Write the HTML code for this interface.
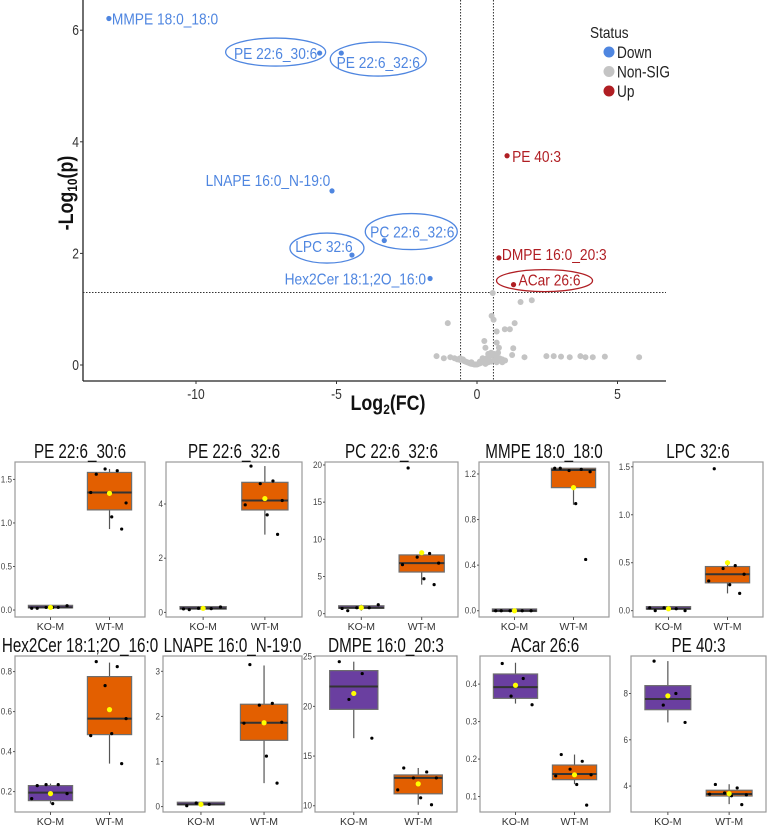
<!DOCTYPE html>
<html><head><meta charset="utf-8"><style>
html,body{margin:0;padding:0;background:#fff;}
svg{display:block;font-family:"Liberation Sans",sans-serif;}
</style></head><body>
<svg id="fig" width="767" height="831" viewBox="0 0 767 831" xmlns="http://www.w3.org/2000/svg">
<g id="volcano"></g>
<g id="boxes"></g>
</svg>
<script>
// ---------- Volcano data ----------
const sigNames = ["MMPE 18:0_18:0","PE 22:6_30:6","PE 22:6_32:6","LNAPE 16:0_N-19:0","PC 22:6_32:6","LPC 32:6","Hex2Cer 18:1;2O_16:0","PE 40:3","DMPE 16:0_20:3","ACar 26:6"];
const sigFC = [-13.1,-5.6,-4.83,-5.16,-3.3,-4.45,-1.67,1.07,0.78,1.3];
const sigP = [6.21,5.59,5.59,3.12,2.23,1.97,1.55,3.75,1.92,1.44];
const sigStatus = ["Down","Down","Down","Down","Down","Down","Down","Up","Up","Up"];
const nsFC = [0.56,1.55,1.95,0.52,0.59,-1.04,1.34,0.99,1.17,0.70,0.26,0.70,0.30,0.78,1.29,1.25,1.69,2.47,2.73,2.99,3.30,3.68,3.86,4.12,4.55,5.77,-1.44,-1.18,
-0.95,-0.8,-0.7,-0.6,-0.5,-0.45,-0.4,-0.35,-0.3,-0.25,-0.2,-0.15,-0.1,-0.05,0,0.05,0.1,0.15,0.2,0.25,0.3,0.35,0.4,0.45,0.5,0.55,0.6,0.65,0.7,0.8,0.9,1.0,0.3,0.4,0.5,0.6,0.2,0.5,0.7,0.9,-0.6,-0.2,0.1,0.75,0.4];
const nsP = [1.29,1.13,1.16,0.88,0.81,0.75,0.75,0.64,0.64,0.60,0.43,0.40,0.31,0.31,0.30,0.18,0.14,0.16,0.16,0.15,0.14,0.16,0.14,0.14,0.15,0.14,0.16,0.12,
0.14,0.12,0.1,0.09,0.1,0.07,0.06,0.05,0.04,0.03,0.02,0.02,0.01,0.01,0.01,0.02,0.03,0.04,0.06,0.08,0.1,0.12,0.14,0.16,0.17,0.18,0.2,0.17,0.14,0.12,0.1,0.08,0.02,0.05,0.06,0.08,0.12,0.22,0.05,0.05,0.12,0.05,0.06,0.22,0.2];
const xTicks = [-10,-5,0,5];
const yTicks = [0,2,4,6];
const fcCut = 0.585, pCut = 1.3;

const NS = "http://www.w3.org/2000/svg";
function mk(parent, tag, attrs, text){
  const e = document.createElementNS(NS, tag);
  for (const k in attrs) e.setAttribute(k, attrs[k]);
  if (text !== undefined) e.textContent = text;
  parent.appendChild(e); return e;
}
function condense(el, f){
  const w = el.getComputedTextLength();
  if (w > 0){ el.setAttribute('textLength', (w*f).toFixed(1)); el.setAttribute('lengthAdjust','spacingAndGlyphs'); }
}
const vx = v => 477 + 28.1*v;
const vy = v => 365 - 55.8*v;
const V = document.getElementById('volcano');
const BLUE = "#4f86e0", RED = "#b01e23", GREY = "#c4c4c4";

let ax = mk(V,'line',{x1:83,y1:0,x2:83,y2:381,stroke:'#222','stroke-width':1.3});


ax = mk(V,'line',{x1:83,y1:381,x2:666,y2:381,stroke:'#222','stroke-width':1.3});


xTicks.forEach(t=>{
  mk(V,'line',{x1:vx(t),y1:381,x2:vx(t),y2:384,stroke:'#333'});
  const tl = mk(V,'text',{x:vx(t),y:399,'font-size':15,'text-anchor':'middle',fill:'#333'},String(t));
  
  
  condense(tl,0.8);
});
yTicks.forEach(t=>{
  mk(V,'line',{x1:80,y1:vy(t),x2:83,y2:vy(t),stroke:'#333'});
  const tl = mk(V,'text',{x:79,y:vy(t)+5,'font-size':15,'text-anchor':'end',fill:'#333'},String(t));
  
  
  condense(tl,0.8);
});
[-fcCut,fcCut].forEach(f=>{
  const l = mk(V,'line',{x1:vx(f),y1:0,x2:vx(f),y2:381,stroke:'#333','stroke-width':1,'stroke-dasharray':'1.5,1.5'});
  
  
});
const hl = mk(V,'line',{x1:83,y1:vy(pCut),x2:666,y2:vy(pCut),stroke:'#333','stroke-width':1,'stroke-dasharray':'1.5,1.5'});


const xt = mk(V,'text',{x:388,y:410,'font-size':21,'font-weight':'bold','text-anchor':'middle',fill:'#111'});
xt.innerHTML = 'Log<tspan font-size="14" dy="4">2</tspan><tspan dy="-4">(FC)</tspan>';


condense(xt,0.85);
const yt = mk(V,'text',{x:0,y:0,'font-size':21,'font-weight':'bold','text-anchor':'middle',fill:'#111',transform:'translate(73,193) rotate(-90)'});
yt.innerHTML = '-Log<tspan font-size="14" dy="4">10</tspan><tspan dy="-4">(p)</tspan>';


condense(yt,0.85);
nsFC.forEach((f,i)=>{
  const c = mk(V,'circle',{cx:vx(f),cy:vy(nsP[i]),r:3,fill:GREY});
  
  
});
sigFC.forEach((f,i)=>{
  const c = mk(V,'circle',{cx:vx(f),cy:vy(sigP[i]),r:2.6,fill:sigStatus[i]==='Up'?RED:BLUE});
  
  
});
const lab = [
  {dx:3,dy:1,anchor:'start'},
  {dx:-44,dy:1,anchor:'middle',ell:[-44,-1,50,14]},
  {dx:37,dy:10,anchor:'middle',ell:[37,6,48,17]},
  {dx:-64,dy:-10,anchor:'middle'},
  {dx:28,dy:-8,anchor:'middle',ell:[27,-9,46,18]},
  {dx:-28,dy:-8,anchor:'middle',ell:[-25,-7,37,15]},
  {dx:-4,dy:1,anchor:'end'},
  {dx:5,dy:1,anchor:'start'},
  {dx:3,dy:-3,anchor:'start'},
  {dx:36,dy:-4,anchor:'middle',ell:[31,-4,48,11]}
];
sigNames.forEach((n,i)=>{
  const px = vx(sigFC[i]), py = vy(sigP[i]), L = lab[i];
  const col = sigStatus[i]==='Up'?RED:BLUE;
  const t = mk(V,'text',{x:px+L.dx,y:py+L.dy+5,'font-size':16,'text-anchor':L.anchor,fill:col},n);
  
  
  condense(t,0.86);
  if (L.ell){
    const e = mk(V,'ellipse',{cx:px+L.ell[0],cy:py+L.ell[1],rx:L.ell[2],ry:L.ell[3],fill:'none',stroke:col,'stroke-width':1.3});
    
    
  }
});
const lg = mk(V,'g',{});


const lgt = mk(lg,'text',{x:590,y:38,'font-size':16,fill:'#222'},'Status');
condense(lgt,0.85);
[['Down',BLUE],['Non-SIG',GREY],['Up',RED]].forEach((d,i)=>{
  const g = mk(lg,'g',{});
  
  
  mk(g,'circle',{cx:609,cy:52+19.5*i,r:5.5,fill:d[1]});
  const tx = mk(g,'text',{x:617,y:58+19.5*i,'font-size':17,fill:'#222'},d[0]);
  condense(tx,0.8);
});

// ---------- Box plot data ----------
const boxTitles = ["PE 22:6_30:6","PE 22:6_32:6","PC 22:6_32:6","MMPE 18:0_18:0","LPC 32:6","Hex2Cer 18:1;2O_16:0","LNAPE 16:0_N-19:0","DMPE 16:0_20:3","ACar 26:6","PE 40:3"];
const yMin = [-0.08,-0.17,-0.45,-0.055,-0.066,0.098,-0.12,9.37,0.0587,2.88];
const yMax = [1.70,5.55,20.4,1.305,1.55,0.878,3.34,25.07,0.475,9.62];
const tickVals = [[0,0.5,1,1.5],[0,2,4],[0,5,10,15,20],[0,0.4,0.8,1.2],[0,0.5,1,1.5],[0.2,0.4,0.6,0.8],[0,1,2,3],[10,15,20,25],[0.1,0.2,0.3,0.4],[4,6,8]];
const tickLabels = [["0.0","0.5","1.0","1.5"],["0","2","4"],["0","5","10","15","20"],["0.0","0.4","0.8","1.2"],["0.0","0.5","1.0","1.5"],["0.2","0.4","0.6","0.8"],["0","1","2","3"],["10","15","20","25"],["0.1","0.2","0.3","0.4"],["4","6","8"]];
// [whisker-low, q1, median, q3, whisker-high]
const koStats = [[0.02,0.02,0.03,0.04,0.05],[0.1,0.12,0.15,0.17,0.2],[0.4,0.6,0.8,0.9,1.2],[0,0,0,0.005,0.005],[0,0.005,0.02,0.03,0.04],[0.14,0.155,0.195,0.23,0.24],[0.02,0.03,0.05,0.07,0.08],[16.8,19.7,22,23.6,24.5],[0.348,0.362,0.392,0.427,0.457],[6.75,7.3,7.76,8.34,9.4]];
const wtStats = [[0.93,1.15,1.35,1.58,1.62],[2.87,3.78,4.13,4.8,5.4],[3.9,5.6,6.8,7.9,7.9],[0.93,1.08,1.235,1.25,1.25],[0.18,0.29,0.38,0.46,0.48],[0.34,0.485,0.565,0.775,0.845],[0.52,1.47,1.86,2.27,3.13],[10.1,11.2,12.8,13.1,13.8],[0.133,0.145,0.16,0.184,0.212],[3.22,3.57,3.66,3.82,4.08]];
const koMean = [0.03,0.15,0.8,0,0.02,0.19,0.05,21.3,0.397,7.9];
const wtMean = [1.34,4.2,8.2,1.08,0.5,0.61,1.86,12.2,0.158,3.67];
const koPts = [[0.02,0.03,0.03,0.05,0.02,0.03],[0.1,0.14,0.15,0.2,0.13],[0.4,0.8,0.8,1.2,0.7],[0,0,0,0,0],[0,0.02,0.03,0,0.03],[0.23,0.235,0.235,0.19,0.165,0.14],[0.02,0.05,0.08],[24.5,23.3,20.7,16.8],[0.455,0.415,0.368,0.345],[9.4,8.0,7.5,6.75]];
const wtPts = [[1.56,1.6,1.62,1.23,1.35,1.07,0.93],[5.4,4.85,4.75,4.13,3.97,3.6,2.88],[19.6,8.1,7.6,6.8,6.6,4.7,3.9],[1.25,1.24,1.23,1.22,1.25,0.94,0.45],[1.48,0.47,0.44,0.38,0.31,0.27,0.18],[0.85,0.825,0.73,0.565,0.48,0.49,0.34],[3.15,2.29,2.25,1.87,1.85,1.12,0.52],[13.8,13.4,12.8,12.8,11.6,10.8,10.1],[0.212,0.194,0.173,0.158,0.155,0.132,0.077],[4.07,3.92,3.7,3.62,3.65,3.58,3.2]];
const groups = ["KO-M","WT-M"];

const frames = [[15,462,145,617],[166,462,302,617],[325,462,458,617],[479,462,609,617],[633,462,763,617],
                [15,656,145,812],[163,656,302,812],[315,656,457,812],[480,656,610,812],[631,656,766,812]];
const B = document.getElementById('boxes');
const KOC = "#6a3fa0", WTC = "#e35f00";
const jit = [-0.6,0.35,-0.2,0.75,-0.85,0.1,0.55,-0.45];

boxTitles.forEach((title,p)=>{
  const [x0,y0,x1,y1] = frames[p];
  const W = x1-x0, H = y1-y0;
  const sy = v => y1 - (v - yMin[p])/(yMax[p]-yMin[p])*H;
  const g = mk(B,'g',{});
  
  
  const fr = mk(g,'rect',{x:x0,y:y0,width:W,height:H,fill:'#fff',stroke:'#9a9a9a','stroke-width':1.2});
  
  
  const tt = mk(g,'text',{x:(x0+x1)/2,y:y0-4,'font-size':20,'text-anchor':'middle',fill:'#111'},title);
  
  
  condense(tt,0.76);
  tickVals[p].forEach((t,i)=>{
    mk(g,'line',{x1:x0-2,y1:sy(t),x2:x0,y2:sy(t),stroke:'#555'});
    const tl = mk(g,'text',{x:x0-3,y:sy(t)+3,'font-size':9,'text-anchor':'end',fill:'#444'},tickLabels[p][i]);
    
    
    condense(tl,0.9);
  });
  const stats = [koStats[p], wtStats[p]], means=[koMean[p],wtMean[p]], pts=[koPts[p],wtPts[p]], cols=[KOC,WTC];
  const bw = 0.34*W;
  [0.273,0.727].forEach((fx,gi)=>{
    const cx = x0 + fx*W;
    mk(g,'line',{x1:cx,y1:y1,x2:cx,y2:y1+3,stroke:'#555'});
    const gl = mk(g,'text',{x:cx,y:y1+13,'font-size':10.5,'text-anchor':'middle',fill:'#333'},groups[gi]);
    
    
    const s = stats[gi];
    mk(g,'line',{x1:cx,y1:sy(s[0]),x2:cx,y2:sy(s[1]),stroke:'#555','stroke-width':1.2});
    mk(g,'line',{x1:cx,y1:sy(s[3]),x2:cx,y2:sy(s[4]),stroke:'#555','stroke-width':1.2});
    const bh = Math.max(sy(s[1])-sy(s[3]),2.5);
    const bx = mk(g,'rect',{x:cx-bw/2,y:sy(s[3])-(bh>2.5?0:1.2),width:bw,height:bh,fill:cols[gi],stroke:'#6e6e6e','stroke-width':1.2});
    
    
    mk(g,'line',{x1:cx-bw/2,y1:sy(s[2]),x2:cx+bw/2,y2:sy(s[2]),stroke:'#333','stroke-width':2});
    pts[gi].forEach((v,k)=>{
      const d = mk(g,'circle',{cx:cx+jit[k%jit.length]*bw/2,cy:sy(v),r:1.6,fill:'#000'});
      
      
    });
    const m = mk(g,'circle',{cx:cx,cy:sy(means[gi]),r:2.6,fill:'#ffff00'});
    
    
  });
});
</script>
</body></html>
